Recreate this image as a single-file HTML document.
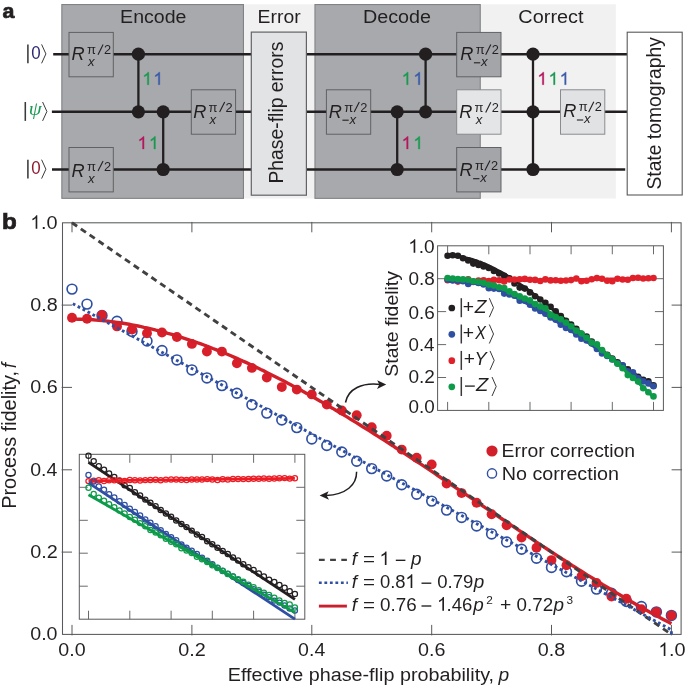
<!DOCTYPE html>
<html><head><meta charset="utf-8"><title>fig</title>
<style>
html,body{margin:0;padding:0;background:#fff;}
svg{display:block;font-family:"Liberation Sans",sans-serif;will-change:transform;opacity:0.999;}
text{fill:#231f20;}
.i{font-style:italic;}
</style></head><body>
<svg width="685" height="687" viewBox="0 0 685 687">
<rect width="685" height="687" fill="#fff"/>

<g id="circuit">
<rect x="244" y="4.3" width="70.5" height="194.2" fill="#f1f1f2"/>
<rect x="480.7" y="4.3" width="135.1" height="194.2" fill="#f1f1f2"/>
<rect x="61.85" y="4.55" width="181.6" height="193.8" fill="#a7a9ac" stroke="#808285" stroke-width="1.1"/>
<rect x="314.95" y="4.55" width="165.3" height="193.8" fill="#a7a9ac" stroke="#808285" stroke-width="1.1"/>
<line x1="53.2" y1="54.2" x2="627" y2="54.2" stroke="#231f20" stroke-width="2.6"/>
<line x1="51.9" y1="111.8" x2="627" y2="111.8" stroke="#231f20" stroke-width="2.6"/>
<line x1="52.0" y1="169.5" x2="625.2" y2="169.5" stroke="#231f20" stroke-width="2.6"/>
<rect x="251.3" y="32.1" width="55.1" height="163.1" fill="#e2e3e5" stroke="#626366" stroke-width="1.2"/>
<rect x="627.2" y="32.2" width="55.0" height="162.8" fill="#fff" stroke="#58595b" stroke-width="1.1"/>
<text x="120.09" y="23.0" font-size="19.2" textLength="66.37" lengthAdjust="spacingAndGlyphs" >Encode</text>
<text x="257.61" y="23.0" font-size="19.2" textLength="43.01" lengthAdjust="spacingAndGlyphs" >Error</text>
<text x="362.98" y="23.0" font-size="19.2" textLength="68.10" lengthAdjust="spacingAndGlyphs" >Decode</text>
<text x="518.39" y="23.0" font-size="19.2" textLength="65.15" lengthAdjust="spacingAndGlyphs" >Correct</text>
<text transform="translate(283.2,112.6) rotate(-90)" font-size="19.35" text-anchor="middle">Phase-flip errors</text>
<text transform="translate(661.2,113.4) rotate(-90)" font-size="19.32" text-anchor="middle">State tomography</text>
<line x1="138.4" y1="54.2" x2="138.4" y2="111.8" stroke="#231f20" stroke-width="2.3"/>
<circle cx="138.4" cy="54.2" r="6.6" fill="#231f20"/>
<circle cx="138.4" cy="111.8" r="6.6" fill="#231f20"/>
<line x1="163.2" y1="111.8" x2="163.2" y2="169.5" stroke="#231f20" stroke-width="2.3"/>
<circle cx="163.2" cy="111.8" r="6.6" fill="#231f20"/>
<circle cx="163.2" cy="169.5" r="6.6" fill="#231f20"/>
<line x1="397.2" y1="111.8" x2="397.2" y2="169.5" stroke="#231f20" stroke-width="2.3"/>
<circle cx="397.2" cy="111.8" r="6.6" fill="#231f20"/>
<circle cx="397.2" cy="169.5" r="6.6" fill="#231f20"/>
<line x1="425.6" y1="54.2" x2="425.6" y2="111.8" stroke="#231f20" stroke-width="2.3"/>
<circle cx="425.6" cy="54.2" r="6.6" fill="#231f20"/>
<circle cx="425.6" cy="111.8" r="6.6" fill="#231f20"/>
<line x1="533" y1="54.2" x2="533" y2="169.5" stroke="#231f20" stroke-width="2.3"/>
<circle cx="533" cy="54.2" r="6.6" fill="#231f20"/>
<circle cx="533" cy="111.8" r="6.6" fill="#231f20"/>
<circle cx="533" cy="169.5" r="6.6" fill="#231f20"/>
<rect x="69.0" y="32.4" width="44.3" height="44.4" fill="#a7a9ac" stroke="#5d5e61" stroke-width="0.95"/>
<text transform="translate(71.6,60.1) scale(1.0,1)" font-size="18.2" class="i">R</text>
<text x="86.9" y="54.1" font-size="13">π</text>
<line x1="98.0" y1="54.7" x2="103.1" y2="44.5" stroke="#231f20" stroke-width="1.1"/>
<text x="104.0" y="54.1" font-size="12.8">2</text>
<text x="88.0" y="66.1" font-size="13.2" class="i">x</text>
<rect x="69.0" y="147.5" width="44.3" height="44.4" fill="#a7a9ac" stroke="#5d5e61" stroke-width="0.95"/>
<text transform="translate(71.6,176.5) scale(1.0,1)" font-size="18.2" class="i">R</text>
<text x="86.9" y="170.5" font-size="13">π</text>
<line x1="98.0" y1="171.1" x2="103.1" y2="160.9" stroke="#231f20" stroke-width="1.1"/>
<text x="104.0" y="170.5" font-size="12.8">2</text>
<text x="88.0" y="182.5" font-size="13.2" class="i">x</text>
<rect x="191.3" y="89.8" width="44.3" height="44.4" fill="#a7a9ac" stroke="#5d5e61" stroke-width="0.95"/>
<text transform="translate(193.2,117.5) scale(1.0,1)" font-size="18.2" class="i">R</text>
<text x="208.5" y="111.5" font-size="13">π</text>
<line x1="219.6" y1="112.1" x2="224.7" y2="101.9" stroke="#231f20" stroke-width="1.1"/>
<text x="225.6" y="111.5" font-size="12.8">2</text>
<text x="209.6" y="123.5" font-size="13.2" class="i">x</text>
<rect x="326.4" y="89.8" width="44.3" height="44.4" fill="#a7a9ac" stroke="#5d5e61" stroke-width="0.95"/>
<text transform="translate(328.7,117.5) scale(1.0,1)" font-size="18.2" class="i">R</text>
<text x="344.2" y="111.5" font-size="13">π</text>
<line x1="354.2" y1="112.1" x2="359.3" y2="101.9" stroke="#231f20" stroke-width="1.1"/>
<text x="360.2" y="111.5" font-size="12.8">2</text>
<line x1="342.4" y1="120.2" x2="348.7" y2="120.2" stroke="#231f20" stroke-width="1.1"/>
<text x="349.5" y="123.5" font-size="13.2" class="i">x</text>
<rect x="456.7" y="32.4" width="44.3" height="44.4" fill="#a3a5a8" stroke="#5d5e61" stroke-width="0.95"/>
<text transform="translate(460.2,60.1) scale(1.0,1)" font-size="18.2" class="i">R</text>
<text x="475.7" y="54.1" font-size="13">π</text>
<line x1="485.7" y1="54.7" x2="490.8" y2="44.5" stroke="#231f20" stroke-width="1.1"/>
<text x="491.7" y="54.1" font-size="12.8">2</text>
<line x1="473.9" y1="62.8" x2="480.2" y2="62.8" stroke="#231f20" stroke-width="1.1"/>
<text x="481.0" y="66.1" font-size="13.2" class="i">x</text>
<rect x="456.7" y="89.8" width="44.3" height="44.4" fill="#e4e5e6" stroke="#85878a" stroke-width="0.95"/>
<text transform="translate(459.3,117.9) scale(1.0,1)" font-size="18.2" class="i">R</text>
<text x="474.6" y="111.9" font-size="13">π</text>
<line x1="485.7" y1="112.5" x2="490.8" y2="102.3" stroke="#231f20" stroke-width="1.1"/>
<text x="491.7" y="111.9" font-size="12.8">2</text>
<text x="475.7" y="123.9" font-size="13.2" class="i">x</text>
<rect x="456.7" y="147.5" width="44.3" height="44.4" fill="#a3a5a8" stroke="#5d5e61" stroke-width="0.95"/>
<text transform="translate(459.4,176.0) scale(1.0,1)" font-size="18.2" class="i">R</text>
<text x="474.9" y="170.0" font-size="13">π</text>
<line x1="484.9" y1="170.6" x2="490.0" y2="160.4" stroke="#231f20" stroke-width="1.1"/>
<text x="490.9" y="170.0" font-size="12.8">2</text>
<line x1="473.1" y1="178.7" x2="479.4" y2="178.7" stroke="#231f20" stroke-width="1.1"/>
<text x="480.2" y="182.0" font-size="13.2" class="i">x</text>
<rect x="560.5" y="89.8" width="44.3" height="44.4" fill="#e1e2e3" stroke="#85878a" stroke-width="0.95"/>
<text transform="translate(563.2,117.3) scale(1.0,1)" font-size="18.2" class="i">R</text>
<text x="578.7" y="111.3" font-size="13">π</text>
<line x1="588.7" y1="111.9" x2="593.8" y2="101.7" stroke="#231f20" stroke-width="1.1"/>
<text x="594.7" y="111.3" font-size="12.8">2</text>
<line x1="576.9" y1="120.0" x2="583.2" y2="120.0" stroke="#231f20" stroke-width="1.1"/>
<text x="584.0" y="123.3" font-size="13.2" class="i">x</text>
<line x1="27.9" y1="44.4" x2="27.9" y2="63.3" stroke="#3a3a3c" stroke-width="1.55"/>
<polyline points="41.6,44.4 45.9,53.9 41.6,63.3" fill="none" stroke="#3a3a3c" stroke-width="1.0"/>
<text x="31.14" y="58.9" font-size="18.4" textLength="9.42" lengthAdjust="spacingAndGlyphs" style="fill:#2d2a72" >0</text>
<line x1="25.3" y1="102.0" x2="25.3" y2="120.9" stroke="#3a3a3c" stroke-width="1.55"/>
<polyline points="42.6,102.0 46.9,111.5 42.6,120.9" fill="none" stroke="#3a3a3c" stroke-width="1.0"/>
<text transform="translate(35.2,114.7) scale(1.06,1)" font-size="19.6" text-anchor="middle" style="fill:#1f9a55;font-family:'Liberation Serif',serif;font-style:italic">ψ</text>
<line x1="27.9" y1="159.7" x2="27.9" y2="178.6" stroke="#3a3a3c" stroke-width="1.55"/>
<polyline points="41.6,159.7 45.9,169.2 41.6,178.6" fill="none" stroke="#3a3a3c" stroke-width="1.0"/>
<text x="31.14" y="174.2" font-size="18.4" textLength="9.42" lengthAdjust="spacingAndGlyphs" style="fill:#8e1b2e" >0</text>
<path d="M763,0 L583,0 L583,1147 Q518,1085 412.5,1023 Q307,961 223,930 L223,1104 Q374,1175 487,1276 Q600,1377 647,1472 L763,1472 Z" transform="translate(142.33,84.7) scale(0.00854,-0.00854)" fill="#1b9a52" stroke="#1b9a52" stroke-width="35"/>
<path d="M763,0 L583,0 L583,1147 Q518,1085 412.5,1023 Q307,961 223,930 L223,1104 Q374,1175 487,1276 Q600,1377 647,1472 L763,1472 Z" transform="translate(153.33,84.7) scale(0.00854,-0.00854)" fill="#3b5ba9" stroke="#3b5ba9" stroke-width="35"/>
<path d="M763,0 L583,0 L583,1147 Q518,1085 412.5,1023 Q307,961 223,930 L223,1104 Q374,1175 487,1276 Q600,1377 647,1472 L763,1472 Z" transform="translate(137.53,149.0) scale(0.00854,-0.00854)" fill="#b4185f" stroke="#b4185f" stroke-width="35"/>
<path d="M763,0 L583,0 L583,1147 Q518,1085 412.5,1023 Q307,961 223,930 L223,1104 Q374,1175 487,1276 Q600,1377 647,1472 L763,1472 Z" transform="translate(148.93,149.0) scale(0.00854,-0.00854)" fill="#1b9a52" stroke="#1b9a52" stroke-width="35"/>
<path d="M763,0 L583,0 L583,1147 Q518,1085 412.5,1023 Q307,961 223,930 L223,1104 Q374,1175 487,1276 Q600,1377 647,1472 L763,1472 Z" transform="translate(401.63,84.7) scale(0.00854,-0.00854)" fill="#1b9a52" stroke="#1b9a52" stroke-width="35"/>
<path d="M763,0 L583,0 L583,1147 Q518,1085 412.5,1023 Q307,961 223,930 L223,1104 Q374,1175 487,1276 Q600,1377 647,1472 L763,1472 Z" transform="translate(413.33,84.7) scale(0.00854,-0.00854)" fill="#3b5ba9" stroke="#3b5ba9" stroke-width="35"/>
<path d="M763,0 L583,0 L583,1147 Q518,1085 412.5,1023 Q307,961 223,930 L223,1104 Q374,1175 487,1276 Q600,1377 647,1472 L763,1472 Z" transform="translate(401.63,149.0) scale(0.00854,-0.00854)" fill="#b4185f" stroke="#b4185f" stroke-width="35"/>
<path d="M763,0 L583,0 L583,1147 Q518,1085 412.5,1023 Q307,961 223,930 L223,1104 Q374,1175 487,1276 Q600,1377 647,1472 L763,1472 Z" transform="translate(413.33,149.0) scale(0.00854,-0.00854)" fill="#1b9a52" stroke="#1b9a52" stroke-width="35"/>
<path d="M763,0 L583,0 L583,1147 Q518,1085 412.5,1023 Q307,961 223,930 L223,1104 Q374,1175 487,1276 Q600,1377 647,1472 L763,1472 Z" transform="translate(537.33,84.7) scale(0.00854,-0.00854)" fill="#b4185f" stroke="#b4185f" stroke-width="35"/>
<path d="M763,0 L583,0 L583,1147 Q518,1085 412.5,1023 Q307,961 223,930 L223,1104 Q374,1175 487,1276 Q600,1377 647,1472 L763,1472 Z" transform="translate(548.53,84.7) scale(0.00854,-0.00854)" fill="#1b9a52" stroke="#1b9a52" stroke-width="35"/>
<path d="M763,0 L583,0 L583,1147 Q518,1085 412.5,1023 Q307,961 223,930 L223,1104 Q374,1175 487,1276 Q600,1377 647,1472 L763,1472 Z" transform="translate(559.63,84.7) scale(0.00854,-0.00854)" fill="#3b5ba9" stroke="#3b5ba9" stroke-width="35"/>
<text x="2.52" y="17.75" font-size="20.8" textLength="11.89" lengthAdjust="spacingAndGlyphs" font-weight="bold" stroke="#231f20" stroke-width="0.7">a</text>
</g>
<g id="chart">
<text x="1.95" y="228.6" font-size="21.6" textLength="14.79" lengthAdjust="spacingAndGlyphs" font-weight="bold" stroke="#231f20" stroke-width="0.7">b</text>
<rect x="62.5" y="222.8" width="618.6" height="411.6" fill="none" stroke="#58595b" stroke-width="1.05"/>
<line x1="72.0" y1="635.4" x2="72.0" y2="624.9" stroke="#58595b" stroke-width="1"/>
<line x1="72.0" y1="221.9" x2="72.0" y2="232.3" stroke="#58595b" stroke-width="1"/>
<text x="58.38" y="656.0" font-size="18.7" textLength="27.34" lengthAdjust="spacingAndGlyphs" >0.0</text>
<line x1="191.9" y1="635.4" x2="191.9" y2="624.9" stroke="#58595b" stroke-width="1"/>
<line x1="191.9" y1="221.9" x2="191.9" y2="232.3" stroke="#58595b" stroke-width="1"/>
<text x="178.25" y="656.0" font-size="18.7" textLength="27.57" lengthAdjust="spacingAndGlyphs" >0.2</text>
<line x1="311.8" y1="635.4" x2="311.8" y2="624.9" stroke="#58595b" stroke-width="1"/>
<line x1="311.8" y1="221.9" x2="311.8" y2="232.3" stroke="#58595b" stroke-width="1"/>
<text x="298.13" y="656.0" font-size="18.7" textLength="27.13" lengthAdjust="spacingAndGlyphs" >0.4</text>
<line x1="431.7" y1="635.4" x2="431.7" y2="624.9" stroke="#58595b" stroke-width="1"/>
<line x1="431.7" y1="221.9" x2="431.7" y2="232.3" stroke="#58595b" stroke-width="1"/>
<text x="417.99" y="656.0" font-size="18.7" textLength="27.44" lengthAdjust="spacingAndGlyphs" >0.6</text>
<line x1="551.5" y1="635.4" x2="551.5" y2="624.9" stroke="#58595b" stroke-width="1"/>
<line x1="551.5" y1="221.9" x2="551.5" y2="232.3" stroke="#58595b" stroke-width="1"/>
<text x="537.86" y="656.0" font-size="18.7" textLength="27.43" lengthAdjust="spacingAndGlyphs" >0.8</text>
<line x1="671.4" y1="635.4" x2="671.4" y2="624.9" stroke="#58595b" stroke-width="1"/>
<line x1="671.4" y1="221.9" x2="671.4" y2="232.3" stroke="#58595b" stroke-width="1"/>
<path d="M763,0 L583,0 L583,1147 Q518,1085 412.5,1023 Q307,961 223,930 L223,1104 Q374,1175 487,1276 Q600,1377 647,1472 L763,1472 Z" transform="translate(658.43,656.0) scale(0.00913,-0.00913)" fill="#231f20"/>
<text x="669.08" y="656.0" font-size="18.7" textLength="16.59" lengthAdjust="spacingAndGlyphs" >.0</text>
<text x="30.23" y="640.4" font-size="18.7" textLength="27.34" lengthAdjust="spacingAndGlyphs" >0.0</text>
<line x1="61.6" y1="552.1" x2="72.0" y2="552.1" stroke="#58595b" stroke-width="1"/>
<line x1="682.0" y1="552.1" x2="671.6" y2="552.1" stroke="#58595b" stroke-width="1"/>
<text x="30.23" y="558.1" font-size="18.7" textLength="27.57" lengthAdjust="spacingAndGlyphs" >0.2</text>
<line x1="61.6" y1="469.8" x2="72.0" y2="469.8" stroke="#58595b" stroke-width="1"/>
<line x1="682.0" y1="469.8" x2="671.6" y2="469.8" stroke="#58595b" stroke-width="1"/>
<text x="30.24" y="475.8" font-size="18.7" textLength="27.13" lengthAdjust="spacingAndGlyphs" >0.4</text>
<line x1="61.6" y1="387.4" x2="72.0" y2="387.4" stroke="#58595b" stroke-width="1"/>
<line x1="682.0" y1="387.4" x2="671.6" y2="387.4" stroke="#58595b" stroke-width="1"/>
<text x="30.23" y="393.4" font-size="18.7" textLength="27.44" lengthAdjust="spacingAndGlyphs" >0.6</text>
<line x1="61.6" y1="305.1" x2="72.0" y2="305.1" stroke="#58595b" stroke-width="1"/>
<line x1="682.0" y1="305.1" x2="671.6" y2="305.1" stroke="#58595b" stroke-width="1"/>
<text x="30.23" y="311.1" font-size="18.7" textLength="27.43" lengthAdjust="spacingAndGlyphs" >0.8</text>
<path d="M763,0 L583,0 L583,1147 Q518,1085 412.5,1023 Q307,961 223,930 L223,1104 Q374,1175 487,1276 Q600,1377 647,1472 L763,1472 Z" transform="translate(30.33,228.8) scale(0.00913,-0.00913)" fill="#231f20"/>
<text x="40.98" y="228.8" font-size="18.7" textLength="16.59" lengthAdjust="spacingAndGlyphs" >.0</text>
<g transform="translate(16.1,507.2) rotate(-90)">
<text x="-1.62" y="0" font-size="19.3" textLength="137.88" lengthAdjust="spacingAndGlyphs" >Process fidelity,</text>
<text x="138.95" y="0" font-size="19.3" class="i">f</text>
</g>
<text x="227.69" y="681.0" font-size="19.2" textLength="266.38" lengthAdjust="spacingAndGlyphs" >Effective phase-flip probability,</text>
<text x="498.48" y="681.0" font-size="19.2" class="i">p</text>
<circle cx="72.0" cy="289.1" r="4.9" fill="none" stroke="#2f4fa2" stroke-width="1.65"/>
<circle cx="87.0" cy="304.1" r="4.9" fill="none" stroke="#2f4fa2" stroke-width="1.65"/>
<circle cx="102.0" cy="315.5" r="4.9" fill="none" stroke="#2f4fa2" stroke-width="1.65"/>
<circle cx="117.0" cy="321.3" r="4.9" fill="none" stroke="#2f4fa2" stroke-width="1.65"/>
<circle cx="132.0" cy="331.4" r="4.9" fill="none" stroke="#2f4fa2" stroke-width="1.65"/>
<circle cx="147.0" cy="341.0" r="4.9" fill="none" stroke="#2f4fa2" stroke-width="1.65"/>
<circle cx="162.0" cy="350.5" r="4.9" fill="none" stroke="#2f4fa2" stroke-width="1.65"/>
<circle cx="176.9" cy="359.9" r="4.9" fill="none" stroke="#2f4fa2" stroke-width="1.65"/>
<circle cx="191.9" cy="369.9" r="4.9" fill="none" stroke="#2f4fa2" stroke-width="1.65"/>
<circle cx="206.9" cy="377.9" r="4.9" fill="none" stroke="#2f4fa2" stroke-width="1.65"/>
<circle cx="221.9" cy="385.6" r="4.9" fill="none" stroke="#2f4fa2" stroke-width="1.65"/>
<circle cx="236.9" cy="393.2" r="4.9" fill="none" stroke="#2f4fa2" stroke-width="1.65"/>
<circle cx="251.9" cy="404.8" r="4.9" fill="none" stroke="#2f4fa2" stroke-width="1.65"/>
<circle cx="266.8" cy="413.1" r="4.9" fill="none" stroke="#2f4fa2" stroke-width="1.65"/>
<circle cx="281.8" cy="420.0" r="4.9" fill="none" stroke="#2f4fa2" stroke-width="1.65"/>
<circle cx="296.8" cy="427.6" r="4.9" fill="none" stroke="#2f4fa2" stroke-width="1.65"/>
<circle cx="311.8" cy="438.9" r="4.9" fill="none" stroke="#2f4fa2" stroke-width="1.65"/>
<circle cx="326.8" cy="445.5" r="4.9" fill="none" stroke="#2f4fa2" stroke-width="1.65"/>
<circle cx="341.8" cy="452.0" r="4.9" fill="none" stroke="#2f4fa2" stroke-width="1.65"/>
<circle cx="356.7" cy="461.3" r="4.9" fill="none" stroke="#2f4fa2" stroke-width="1.65"/>
<circle cx="371.7" cy="468.6" r="4.9" fill="none" stroke="#2f4fa2" stroke-width="1.65"/>
<circle cx="386.7" cy="475.9" r="4.9" fill="none" stroke="#2f4fa2" stroke-width="1.65"/>
<circle cx="401.7" cy="484.7" r="4.9" fill="none" stroke="#2f4fa2" stroke-width="1.65"/>
<circle cx="416.7" cy="494.2" r="4.9" fill="none" stroke="#2f4fa2" stroke-width="1.65"/>
<circle cx="431.7" cy="501.1" r="4.9" fill="none" stroke="#2f4fa2" stroke-width="1.65"/>
<circle cx="446.6" cy="510.1" r="4.9" fill="none" stroke="#2f4fa2" stroke-width="1.65"/>
<circle cx="461.6" cy="517.4" r="4.9" fill="none" stroke="#2f4fa2" stroke-width="1.65"/>
<circle cx="476.6" cy="525.9" r="4.9" fill="none" stroke="#2f4fa2" stroke-width="1.65"/>
<circle cx="491.6" cy="533.9" r="4.9" fill="none" stroke="#2f4fa2" stroke-width="1.65"/>
<circle cx="506.6" cy="542.0" r="4.9" fill="none" stroke="#2f4fa2" stroke-width="1.65"/>
<circle cx="521.6" cy="549.3" r="4.9" fill="none" stroke="#2f4fa2" stroke-width="1.65"/>
<circle cx="536.5" cy="558.2" r="4.9" fill="none" stroke="#2f4fa2" stroke-width="1.65"/>
<circle cx="551.5" cy="567.4" r="4.9" fill="none" stroke="#2f4fa2" stroke-width="1.65"/>
<circle cx="566.5" cy="571.8" r="4.9" fill="none" stroke="#2f4fa2" stroke-width="1.65"/>
<circle cx="581.5" cy="581.3" r="4.9" fill="none" stroke="#2f4fa2" stroke-width="1.65"/>
<circle cx="596.5" cy="589.1" r="4.9" fill="none" stroke="#2f4fa2" stroke-width="1.65"/>
<circle cx="611.5" cy="593.2" r="4.9" fill="none" stroke="#2f4fa2" stroke-width="1.65"/>
<circle cx="626.4" cy="601.4" r="4.9" fill="none" stroke="#2f4fa2" stroke-width="1.65"/>
<circle cx="641.4" cy="606.6" r="4.9" fill="none" stroke="#2f4fa2" stroke-width="1.65"/>
<circle cx="656.4" cy="611.9" r="4.9" fill="none" stroke="#2f4fa2" stroke-width="1.65"/>
<circle cx="671.4" cy="615.4" r="4.9" fill="none" stroke="#2f4fa2" stroke-width="1.65"/>
<circle cx="72.0" cy="317.7" r="4.95" fill="#d81f2a"/>
<circle cx="87.0" cy="318.7" r="4.95" fill="#d81f2a"/>
<circle cx="102.0" cy="315.0" r="4.95" fill="#d81f2a"/>
<circle cx="117.0" cy="326.4" r="4.95" fill="#d81f2a"/>
<circle cx="132.0" cy="329.6" r="4.95" fill="#d81f2a"/>
<circle cx="147.0" cy="333.3" r="4.95" fill="#d81f2a"/>
<circle cx="162.0" cy="332.5" r="4.95" fill="#d81f2a"/>
<circle cx="176.9" cy="337.0" r="4.95" fill="#d81f2a"/>
<circle cx="191.9" cy="343.9" r="4.95" fill="#d81f2a"/>
<circle cx="206.9" cy="351.6" r="4.95" fill="#d81f2a"/>
<circle cx="221.9" cy="351.6" r="4.95" fill="#d81f2a"/>
<circle cx="236.9" cy="363.3" r="4.95" fill="#d81f2a"/>
<circle cx="251.9" cy="367.9" r="4.95" fill="#d81f2a"/>
<circle cx="266.8" cy="377.6" r="4.95" fill="#d81f2a"/>
<circle cx="281.8" cy="387.1" r="4.95" fill="#d81f2a"/>
<circle cx="296.8" cy="389.6" r="4.95" fill="#d81f2a"/>
<circle cx="311.8" cy="394.4" r="4.95" fill="#d81f2a"/>
<circle cx="326.8" cy="404.6" r="4.95" fill="#d81f2a"/>
<circle cx="341.8" cy="410.5" r="4.95" fill="#d81f2a"/>
<circle cx="356.7" cy="415.3" r="4.95" fill="#d81f2a"/>
<circle cx="371.7" cy="427.3" r="4.95" fill="#d81f2a"/>
<circle cx="386.7" cy="435.8" r="4.95" fill="#d81f2a"/>
<circle cx="401.7" cy="449.6" r="4.95" fill="#d81f2a"/>
<circle cx="416.7" cy="457.7" r="4.95" fill="#d81f2a"/>
<circle cx="431.7" cy="464.4" r="4.95" fill="#d81f2a"/>
<circle cx="446.6" cy="483.6" r="4.95" fill="#d81f2a"/>
<circle cx="461.6" cy="493.1" r="4.95" fill="#d81f2a"/>
<circle cx="476.6" cy="502.8" r="4.95" fill="#d81f2a"/>
<circle cx="491.6" cy="514.2" r="4.95" fill="#d81f2a"/>
<circle cx="506.6" cy="525.2" r="4.95" fill="#d81f2a"/>
<circle cx="521.6" cy="537.6" r="4.95" fill="#d81f2a"/>
<circle cx="536.5" cy="547.7" r="4.95" fill="#d81f2a"/>
<circle cx="551.5" cy="560.1" r="4.95" fill="#d81f2a"/>
<circle cx="566.5" cy="565.3" r="4.95" fill="#d81f2a"/>
<circle cx="581.5" cy="576.2" r="4.95" fill="#d81f2a"/>
<circle cx="596.5" cy="582.9" r="4.95" fill="#d81f2a"/>
<circle cx="611.5" cy="596.6" r="4.95" fill="#d81f2a"/>
<circle cx="626.4" cy="598.8" r="4.95" fill="#d81f2a"/>
<circle cx="641.4" cy="609.3" r="4.95" fill="#d81f2a"/>
<circle cx="656.4" cy="611.9" r="4.95" fill="#d81f2a"/>
<circle cx="671.4" cy="615.4" r="4.95" fill="#d81f2a"/>
<polyline points="72.0,319.1 75.0,319.1 78.0,319.2 81.0,319.2 84.0,319.4 87.0,319.5 90.0,319.6 93.0,319.8 96.0,320.1 99.0,320.3 102.0,320.6 105.0,320.9 108.0,321.2 111.0,321.6 114.0,322.0 117.0,322.4 120.0,322.8 123.0,323.3 126.0,323.8 129.0,324.3 132.0,324.8 135.0,325.4 138.0,326.0 141.0,326.6 144.0,327.3 147.0,327.9 150.0,328.6 153.0,329.3 156.0,330.1 159.0,330.8 162.0,331.6 164.9,332.4 167.9,333.3 170.9,334.1 173.9,335.0 176.9,335.9 179.9,336.9 182.9,337.8 185.9,338.8 188.9,339.8 191.9,340.8 194.9,341.8 197.9,342.9 200.9,343.9 203.9,345.0 206.9,346.2 209.9,347.3 212.9,348.5 215.9,349.6 218.9,350.8 221.9,352.0 224.9,353.3 227.9,354.5 230.9,355.8 233.9,357.1 236.9,358.4 239.9,359.7 242.9,361.1 245.9,362.4 248.9,363.8 251.9,365.2 254.9,366.6 257.8,368.0 260.8,369.5 263.8,370.9 266.8,372.4 269.8,373.9 272.8,375.4 275.8,376.9 278.8,378.5 281.8,380.0 284.8,381.6 287.8,383.2 290.8,384.8 293.8,386.4 296.8,388.0 299.8,389.6 302.8,391.3 305.8,392.9 308.8,394.6 311.8,396.3 314.8,398.0 317.8,399.7 320.8,401.4 323.8,403.2 326.8,404.9 329.8,406.7 332.8,408.4 335.8,410.2 338.8,412.0 341.8,413.8 344.8,415.6 347.8,417.4 350.7,419.3 353.7,421.1 356.7,422.9 359.7,424.8 362.7,426.7 365.7,428.5 368.7,430.4 371.7,432.3 374.7,434.2 377.7,436.1 380.7,438.0 383.7,439.9 386.7,441.9 389.7,443.8 392.7,445.7 395.7,447.7 398.7,449.6 401.7,451.6 404.7,453.6 407.7,455.5 410.7,457.5 413.7,459.5 416.7,461.5 419.7,463.4 422.7,465.4 425.7,467.4 428.7,469.4 431.7,471.4 434.7,473.4 437.7,475.5 440.7,477.5 443.6,479.5 446.6,481.5 449.6,483.5 452.6,485.5 455.6,487.6 458.6,489.6 461.6,491.6 464.6,493.7 467.6,495.7 470.6,497.7 473.6,499.7 476.6,501.8 479.6,503.8 482.6,505.8 485.6,507.9 488.6,509.9 491.6,511.9 494.6,514.0 497.6,516.0 500.6,518.0 503.6,520.0 506.6,522.0 509.6,524.1 512.6,526.1 515.6,528.1 518.6,530.1 521.6,532.1 524.6,534.1 527.6,536.1 530.6,538.1 533.5,540.1 536.5,542.1 539.5,544.1 542.5,546.1 545.5,548.0 548.5,550.0 551.5,552.0 554.5,553.9 557.5,555.9 560.5,557.8 563.5,559.8 566.5,561.7 569.5,563.6 572.5,565.6 575.5,567.5 578.5,569.4 581.5,571.3 584.5,573.2 587.5,575.1 590.5,576.9 593.5,578.8 596.5,580.7 599.5,582.5 602.5,584.4 605.5,586.2 608.5,588.0 611.5,589.8 614.5,591.6 617.5,593.4 620.5,595.2 623.5,597.0 626.4,598.7 629.4,600.5 632.4,602.2 635.4,604.0 638.4,605.7 641.4,607.4 644.4,609.1 647.4,610.7 650.4,612.4 653.4,614.1 656.4,615.7 659.4,617.3 662.4,618.9 665.4,620.5 668.4,622.1 671.4,623.7" fill="none" stroke="#d2202a" stroke-width="3.4"/>
<line x1="72.0" y1="222.8" x2="671.4" y2="634.4" stroke="#414042" stroke-width="2.9" stroke-dasharray="6.2 4.5"/>
<polyline points="72.8,303.7 671.4,629.8 671.4,634.4" fill="none" stroke="#2f4fa2" stroke-width="2.9" stroke-dasharray="2.8 2.8"/>
<circle cx="492" cy="451" r="5.6" fill="#d2202a"/>
<circle cx="492" cy="473.4" r="4.6" fill="none" stroke="#2f4fa2" stroke-width="1.4"/>
<text x="501.61" y="456.8" font-size="19.1" textLength="133.45" lengthAdjust="spacingAndGlyphs" >Error correction</text>
<text x="501.68" y="480.1" font-size="19.1" textLength="117.40" lengthAdjust="spacingAndGlyphs" >No correction</text>
<line x1="318.9" y1="559.9" x2="346.9" y2="559.9" stroke="#414042" stroke-width="2.4" stroke-dasharray="5.8 5.4"/>
<line x1="318.9" y1="582.8" x2="347.9" y2="582.8" stroke="#2f4fa2" stroke-width="2.6" stroke-dasharray="2.8 2.7"/>
<line x1="318.9" y1="606.1" x2="346.9" y2="606.1" stroke="#c8202c" stroke-width="2.9"/>
<text x="351.86" y="565.0" font-size="18.9" class="i">f</text>
<text x="362.99" y="565.0" font-size="18.9" textLength="12.02" lengthAdjust="spacingAndGlyphs" >=</text>
<text x="351.86" y="587.9" font-size="18.9" class="i">f</text>
<text x="362.99" y="587.9" font-size="18.9" textLength="12.02" lengthAdjust="spacingAndGlyphs" >=</text>
<text x="351.86" y="610.7" font-size="18.9" class="i">f</text>
<text x="362.99" y="610.7" font-size="18.9" textLength="12.02" lengthAdjust="spacingAndGlyphs" >=</text>
<path d="M763,0 L583,0 L583,1147 Q518,1085 412.5,1023 Q307,961 223,930 L223,1104 Q374,1175 487,1276 Q600,1377 647,1472 L763,1472 Z" transform="translate(379.46,565.0) scale(0.00923,-0.00923)" fill="#231f20"/>
<line x1="395.8" y1="560.3" x2="405.4" y2="560.3" stroke="#231f20" stroke-width="1.35"/>
<text x="411.07" y="565.0" font-size="18.9" class="i">p</text>
<text x="379.98" y="587.9" font-size="18.9" textLength="25.62" lengthAdjust="spacingAndGlyphs" >0.8</text>
<path d="M763,0 L583,0 L583,1147 Q518,1085 412.5,1023 Q307,961 223,930 L223,1104 Q374,1175 487,1276 Q600,1377 647,1472 L763,1472 Z" transform="translate(405.26,587.9) scale(0.00923,-0.00923)" fill="#231f20"/>
<line x1="421.5" y1="583.2" x2="431.3" y2="583.2" stroke="#231f20" stroke-width="1.35"/>
<text x="437.18" y="587.9" font-size="18.9" textLength="36.10" lengthAdjust="spacingAndGlyphs" >0.79</text>
<text x="473.87" y="587.9" font-size="18.9" class="i">p</text>
<text x="379.96" y="610.7" font-size="18.9" textLength="36.66" lengthAdjust="spacingAndGlyphs" >0.76</text>
<line x1="421.5" y1="606.0" x2="431.3" y2="606.0" stroke="#231f20" stroke-width="1.35"/>
<path d="M763,0 L583,0 L583,1147 Q518,1085 412.5,1023 Q307,961 223,930 L223,1104 Q374,1175 487,1276 Q600,1377 647,1472 L763,1472 Z" transform="translate(436.96,610.7) scale(0.00923,-0.00923)" fill="#231f20"/>
<text x="446.60" y="610.7" font-size="18.9" textLength="25.81" lengthAdjust="spacingAndGlyphs" >.46</text>
<text x="473.27" y="610.7" font-size="18.9" class="i">p</text>
<text x="486.31" y="604.3000000000001" font-size="11.8">2</text>
<text x="499.96" y="610.7" font-size="18.9" textLength="11.30" lengthAdjust="spacingAndGlyphs" >+</text>
<text x="516.57" y="610.7" font-size="18.9" textLength="36.58" lengthAdjust="spacingAndGlyphs" >0.72</text>
<text x="553.47" y="610.7" font-size="18.9" class="i">p</text>
<text x="566.55" y="604.3000000000001" font-size="11.8">3</text>
<path d="M345.5,402.5 C348,389 362,382 381,384.5" fill="none" stroke="#231f20" stroke-width="1.6"/>
<path d="M386.2,384.4 L377.2,380.2 L379.3,384.6 L377,389 Z" fill="#231f20"/>
<path d="M356.6,471.8 C356.8,485 346,494.6 326,495.5" fill="none" stroke="#231f20" stroke-width="1.5"/>
<path d="M319.6,495.6 L328.6,491.2 L326.6,495.5 L329,499.8 Z" fill="#231f20"/>
<rect x="437.6" y="245.8" width="225.79999999999995" height="164.59999999999997" fill="#fff" stroke="#58595b" stroke-width="1"/>
<line x1="447.6" y1="410.4" x2="447.6" y2="401.9" stroke="#58595b" stroke-width="0.9"/>
<line x1="447.6" y1="245.8" x2="447.6" y2="254.3" stroke="#58595b" stroke-width="0.9"/>
<line x1="488.8" y1="410.4" x2="488.8" y2="401.9" stroke="#58595b" stroke-width="0.9"/>
<line x1="488.8" y1="245.8" x2="488.8" y2="254.3" stroke="#58595b" stroke-width="0.9"/>
<line x1="530.0" y1="410.4" x2="530.0" y2="401.9" stroke="#58595b" stroke-width="0.9"/>
<line x1="530.0" y1="245.8" x2="530.0" y2="254.3" stroke="#58595b" stroke-width="0.9"/>
<line x1="571.1" y1="410.4" x2="571.1" y2="401.9" stroke="#58595b" stroke-width="0.9"/>
<line x1="571.1" y1="245.8" x2="571.1" y2="254.3" stroke="#58595b" stroke-width="0.9"/>
<line x1="612.3" y1="410.4" x2="612.3" y2="401.9" stroke="#58595b" stroke-width="0.9"/>
<line x1="612.3" y1="245.8" x2="612.3" y2="254.3" stroke="#58595b" stroke-width="0.9"/>
<line x1="653.5" y1="410.4" x2="653.5" y2="401.9" stroke="#58595b" stroke-width="0.9"/>
<line x1="653.5" y1="245.8" x2="653.5" y2="254.3" stroke="#58595b" stroke-width="0.9"/>
<line x1="437.6" y1="377.5" x2="446.1" y2="377.5" stroke="#58595b" stroke-width="0.9"/>
<line x1="663.4" y1="377.5" x2="654.9" y2="377.5" stroke="#58595b" stroke-width="0.9"/>
<line x1="437.6" y1="344.6" x2="446.1" y2="344.6" stroke="#58595b" stroke-width="0.9"/>
<line x1="663.4" y1="344.6" x2="654.9" y2="344.6" stroke="#58595b" stroke-width="0.9"/>
<line x1="437.6" y1="311.6" x2="446.1" y2="311.6" stroke="#58595b" stroke-width="0.9"/>
<line x1="663.4" y1="311.6" x2="654.9" y2="311.6" stroke="#58595b" stroke-width="0.9"/>
<line x1="437.6" y1="278.7" x2="446.1" y2="278.7" stroke="#58595b" stroke-width="0.9"/>
<line x1="663.4" y1="278.7" x2="654.9" y2="278.7" stroke="#58595b" stroke-width="0.9"/>
<path d="M763,0 L583,0 L583,1147 Q518,1085 412.5,1023 Q307,961 223,930 L223,1104 Q374,1175 487,1276 Q600,1377 647,1472 L763,1472 Z" transform="translate(408.31,252.7) scale(0.00913,-0.00913)" fill="#231f20"/>
<text x="418.82" y="252.7" font-size="18.7" textLength="15.93" lengthAdjust="spacingAndGlyphs" >.0</text>
<text x="408.49" y="285.1" font-size="18.7" textLength="26.33" lengthAdjust="spacingAndGlyphs" >0.8</text>
<text x="408.49" y="318.6" font-size="18.7" textLength="26.34" lengthAdjust="spacingAndGlyphs" >0.6</text>
<text x="408.50" y="350.7" font-size="18.7" textLength="26.05" lengthAdjust="spacingAndGlyphs" >0.4</text>
<text x="408.49" y="383.1" font-size="18.7" textLength="26.47" lengthAdjust="spacingAndGlyphs" >0.2</text>
<text x="408.49" y="413.2" font-size="18.7" textLength="26.24" lengthAdjust="spacingAndGlyphs" >0.0</text>
<g transform="translate(398.3,375.8) rotate(-90)">
<text x="-0.88" y="0" font-size="19.0" textLength="105.52" lengthAdjust="spacingAndGlyphs" >State fidelity</text>
</g>
<circle cx="447.6" cy="255.8" r="3.3" fill="#231f20"/>
<circle cx="452.7" cy="255.3" r="3.3" fill="#231f20"/>
<circle cx="457.9" cy="255.8" r="3.3" fill="#231f20"/>
<circle cx="463.0" cy="258.3" r="3.3" fill="#231f20"/>
<circle cx="468.2" cy="260.4" r="3.3" fill="#231f20"/>
<circle cx="473.3" cy="263.6" r="3.3" fill="#231f20"/>
<circle cx="478.5" cy="264.9" r="3.3" fill="#231f20"/>
<circle cx="483.6" cy="266.4" r="3.3" fill="#231f20"/>
<circle cx="488.8" cy="268.0" r="3.3" fill="#231f20"/>
<circle cx="493.9" cy="271.0" r="3.3" fill="#231f20"/>
<circle cx="499.1" cy="273.5" r="3.3" fill="#231f20"/>
<circle cx="504.2" cy="275.9" r="3.3" fill="#231f20"/>
<circle cx="509.4" cy="278.2" r="3.3" fill="#231f20"/>
<circle cx="514.5" cy="283.5" r="3.3" fill="#231f20"/>
<circle cx="519.7" cy="287.6" r="3.3" fill="#231f20"/>
<circle cx="524.8" cy="288.6" r="3.3" fill="#231f20"/>
<circle cx="530.0" cy="292.4" r="3.3" fill="#231f20"/>
<circle cx="535.1" cy="296.2" r="3.3" fill="#231f20"/>
<circle cx="540.3" cy="299.5" r="3.3" fill="#231f20"/>
<circle cx="545.4" cy="302.9" r="3.3" fill="#231f20"/>
<circle cx="550.6" cy="306.7" r="3.3" fill="#231f20"/>
<circle cx="555.7" cy="311.3" r="3.3" fill="#231f20"/>
<circle cx="560.8" cy="316.1" r="3.3" fill="#231f20"/>
<circle cx="566.0" cy="320.8" r="3.3" fill="#231f20"/>
<circle cx="571.1" cy="324.5" r="3.3" fill="#231f20"/>
<circle cx="576.3" cy="328.8" r="3.3" fill="#231f20"/>
<circle cx="581.4" cy="333.8" r="3.3" fill="#231f20"/>
<circle cx="586.6" cy="336.5" r="3.3" fill="#231f20"/>
<circle cx="591.7" cy="341.6" r="3.3" fill="#231f20"/>
<circle cx="596.9" cy="345.4" r="3.3" fill="#231f20"/>
<circle cx="602.0" cy="350.7" r="3.3" fill="#231f20"/>
<circle cx="607.2" cy="354.9" r="3.3" fill="#231f20"/>
<circle cx="612.3" cy="358.6" r="3.3" fill="#231f20"/>
<circle cx="617.5" cy="362.3" r="3.3" fill="#231f20"/>
<circle cx="622.6" cy="365.5" r="3.3" fill="#231f20"/>
<circle cx="627.8" cy="369.4" r="3.3" fill="#231f20"/>
<circle cx="632.9" cy="373.3" r="3.3" fill="#231f20"/>
<circle cx="638.1" cy="376.9" r="3.3" fill="#231f20"/>
<circle cx="643.2" cy="379.7" r="3.3" fill="#231f20"/>
<circle cx="648.4" cy="381.4" r="3.3" fill="#231f20"/>
<circle cx="653.5" cy="385.4" r="3.3" fill="#231f20"/>
<polyline points="447.6,255.7 449.7,255.7 451.7,255.8 453.8,255.9 455.8,256.1 457.9,256.4 460.0,256.7 462.0,257.0 464.1,257.4 466.1,257.9 468.2,258.4 470.2,258.9 472.3,259.5 474.4,260.2 476.4,260.8 478.5,261.6 480.5,262.3 482.6,263.2 484.7,264.0 486.7,264.9 488.8,265.8 490.8,266.8 492.9,267.8 495.0,268.9 497.0,270.0 499.1,271.1 501.1,272.2 503.2,273.4 505.3,274.6 507.3,275.9 509.4,277.1 511.4,278.5 513.5,279.8 515.5,281.1 517.6,282.5 519.7,283.9 521.7,285.4 523.8,286.8 525.8,288.3 527.9,289.8 530.0,291.3 532.0,292.9 534.1,294.5 536.1,296.0 538.2,297.6 540.3,299.2 542.3,300.9 544.4,302.5 546.4,304.2 548.5,305.8 550.6,307.5 552.6,309.2 554.7,310.9 556.7,312.6 558.8,314.3 560.8,316.0 562.9,317.8 565.0,319.5 567.0,321.2 569.1,322.9 571.1,324.7 573.2,326.4 575.3,328.2 577.3,329.9 579.4,331.6 581.4,333.4 583.5,335.1 585.6,336.8 587.6,338.5 589.7,340.2 591.7,342.0 593.8,343.6 595.8,345.3 597.9,347.0 600.0,348.7 602.0,350.3 604.1,352.0 606.1,353.6 608.2,355.2 610.3,356.8 612.3,358.4 614.4,359.9 616.4,361.5 618.5,363.0 620.6,364.5 622.6,366.0 624.7,367.4 626.7,368.8 628.8,370.3 630.9,371.6 632.9,373.0 635.0,374.3 637.0,375.6 639.1,376.9 641.1,378.1 643.2,379.3 645.3,380.5 647.3,381.7 649.4,382.8 651.4,383.8 653.5,384.9" fill="none" stroke="#231f20" stroke-width="3.1"/>
<circle cx="447.6" cy="280.2" r="3.3" fill="#e0202a"/>
<circle cx="452.7" cy="280.0" r="3.3" fill="#e0202a"/>
<circle cx="457.9" cy="281.6" r="3.3" fill="#e0202a"/>
<circle cx="463.0" cy="280.3" r="3.3" fill="#e0202a"/>
<circle cx="468.2" cy="279.3" r="3.3" fill="#e0202a"/>
<circle cx="473.3" cy="282.0" r="3.3" fill="#e0202a"/>
<circle cx="478.5" cy="280.6" r="3.3" fill="#e0202a"/>
<circle cx="483.6" cy="280.4" r="3.3" fill="#e0202a"/>
<circle cx="488.8" cy="281.0" r="3.3" fill="#e0202a"/>
<circle cx="493.9" cy="279.9" r="3.3" fill="#e0202a"/>
<circle cx="499.1" cy="280.3" r="3.3" fill="#e0202a"/>
<circle cx="504.2" cy="281.4" r="3.3" fill="#e0202a"/>
<circle cx="509.4" cy="279.5" r="3.3" fill="#e0202a"/>
<circle cx="514.5" cy="279.6" r="3.3" fill="#e0202a"/>
<circle cx="519.7" cy="279.3" r="3.3" fill="#e0202a"/>
<circle cx="524.8" cy="278.9" r="3.3" fill="#e0202a"/>
<circle cx="530.0" cy="279.8" r="3.3" fill="#e0202a"/>
<circle cx="535.1" cy="279.9" r="3.3" fill="#e0202a"/>
<circle cx="540.3" cy="281.0" r="3.3" fill="#e0202a"/>
<circle cx="545.4" cy="279.4" r="3.3" fill="#e0202a"/>
<circle cx="550.6" cy="280.4" r="3.3" fill="#e0202a"/>
<circle cx="555.7" cy="280.2" r="3.3" fill="#e0202a"/>
<circle cx="560.8" cy="280.8" r="3.3" fill="#e0202a"/>
<circle cx="566.0" cy="280.5" r="3.3" fill="#e0202a"/>
<circle cx="571.1" cy="280.1" r="3.3" fill="#e0202a"/>
<circle cx="576.3" cy="278.5" r="3.3" fill="#e0202a"/>
<circle cx="581.4" cy="281.2" r="3.3" fill="#e0202a"/>
<circle cx="586.6" cy="280.7" r="3.3" fill="#e0202a"/>
<circle cx="591.7" cy="279.2" r="3.3" fill="#e0202a"/>
<circle cx="596.9" cy="278.1" r="3.3" fill="#e0202a"/>
<circle cx="602.0" cy="278.8" r="3.3" fill="#e0202a"/>
<circle cx="607.2" cy="280.7" r="3.3" fill="#e0202a"/>
<circle cx="612.3" cy="281.2" r="3.3" fill="#e0202a"/>
<circle cx="617.5" cy="278.7" r="3.3" fill="#e0202a"/>
<circle cx="622.6" cy="279.5" r="3.3" fill="#e0202a"/>
<circle cx="627.8" cy="279.8" r="3.3" fill="#e0202a"/>
<circle cx="632.9" cy="278.0" r="3.3" fill="#e0202a"/>
<circle cx="638.1" cy="277.8" r="3.3" fill="#e0202a"/>
<circle cx="643.2" cy="278.5" r="3.3" fill="#e0202a"/>
<circle cx="648.4" cy="278.3" r="3.3" fill="#e0202a"/>
<circle cx="653.5" cy="278.0" r="3.3" fill="#e0202a"/>
<polyline points="447.6,280.4 449.7,280.4 451.7,280.4 453.8,280.4 455.8,280.4 457.9,280.4 460.0,280.4 462.0,280.4 464.1,280.4 466.1,280.4 468.2,280.3 470.2,280.3 472.3,280.3 474.4,280.3 476.4,280.3 478.5,280.3 480.5,280.3 482.6,280.3 484.7,280.3 486.7,280.3 488.8,280.3 490.8,280.3 492.9,280.3 495.0,280.3 497.0,280.3 499.1,280.2 501.1,280.2 503.2,280.2 505.3,280.2 507.3,280.2 509.4,280.2 511.4,280.2 513.5,280.2 515.5,280.2 517.6,280.1 519.7,280.1 521.7,280.1 523.8,280.1 525.8,280.1 527.9,280.1 530.0,280.0 532.0,280.0 534.1,280.0 536.1,280.0 538.2,280.0 540.3,280.0 542.3,279.9 544.4,279.9 546.4,279.9 548.5,279.9 550.6,279.9 552.6,279.9 554.7,279.8 556.7,279.8 558.8,279.8 560.8,279.8 562.9,279.7 565.0,279.7 567.0,279.7 569.1,279.7 571.1,279.7 573.2,279.6 575.3,279.6 577.3,279.6 579.4,279.6 581.4,279.5 583.5,279.5 585.6,279.5 587.6,279.5 589.7,279.4 591.7,279.4 593.8,279.4 595.8,279.3 597.9,279.3 600.0,279.3 602.0,279.3 604.1,279.2 606.1,279.2 608.2,279.2 610.3,279.1 612.3,279.1 614.4,279.1 616.4,279.0 618.5,279.0 620.6,279.0 622.6,278.9 624.7,278.9 626.7,278.9 628.8,278.8 630.9,278.8 632.9,278.8 635.0,278.7 637.0,278.7 639.1,278.7 641.1,278.6 643.2,278.6 645.3,278.5 647.3,278.5 649.4,278.5 651.4,278.4 653.5,278.4" fill="none" stroke="#e0202a" stroke-width="3.1"/>
<circle cx="447.6" cy="279.5" r="3.3" fill="#2f4fa2"/>
<circle cx="452.7" cy="280.5" r="3.3" fill="#2f4fa2"/>
<circle cx="457.9" cy="280.8" r="3.3" fill="#2f4fa2"/>
<circle cx="463.0" cy="281.2" r="3.3" fill="#2f4fa2"/>
<circle cx="468.2" cy="283.9" r="3.3" fill="#2f4fa2"/>
<circle cx="473.3" cy="281.8" r="3.3" fill="#2f4fa2"/>
<circle cx="478.5" cy="283.0" r="3.3" fill="#2f4fa2"/>
<circle cx="483.6" cy="284.5" r="3.3" fill="#2f4fa2"/>
<circle cx="488.8" cy="288.3" r="3.3" fill="#2f4fa2"/>
<circle cx="493.9" cy="288.6" r="3.3" fill="#2f4fa2"/>
<circle cx="499.1" cy="288.9" r="3.3" fill="#2f4fa2"/>
<circle cx="504.2" cy="293.6" r="3.3" fill="#2f4fa2"/>
<circle cx="509.4" cy="294.4" r="3.3" fill="#2f4fa2"/>
<circle cx="514.5" cy="295.7" r="3.3" fill="#2f4fa2"/>
<circle cx="519.7" cy="300.7" r="3.3" fill="#2f4fa2"/>
<circle cx="524.8" cy="300.7" r="3.3" fill="#2f4fa2"/>
<circle cx="530.0" cy="304.7" r="3.3" fill="#2f4fa2"/>
<circle cx="535.1" cy="308.4" r="3.3" fill="#2f4fa2"/>
<circle cx="540.3" cy="311.0" r="3.3" fill="#2f4fa2"/>
<circle cx="545.4" cy="313.8" r="3.3" fill="#2f4fa2"/>
<circle cx="550.6" cy="317.5" r="3.3" fill="#2f4fa2"/>
<circle cx="555.7" cy="319.8" r="3.3" fill="#2f4fa2"/>
<circle cx="560.8" cy="324.8" r="3.3" fill="#2f4fa2"/>
<circle cx="566.0" cy="327.9" r="3.3" fill="#2f4fa2"/>
<circle cx="571.1" cy="329.9" r="3.3" fill="#2f4fa2"/>
<circle cx="576.3" cy="334.4" r="3.3" fill="#2f4fa2"/>
<circle cx="581.4" cy="338.8" r="3.3" fill="#2f4fa2"/>
<circle cx="586.6" cy="340.5" r="3.3" fill="#2f4fa2"/>
<circle cx="591.7" cy="343.5" r="3.3" fill="#2f4fa2"/>
<circle cx="596.9" cy="349.0" r="3.3" fill="#2f4fa2"/>
<circle cx="602.0" cy="353.5" r="3.3" fill="#2f4fa2"/>
<circle cx="607.2" cy="355.9" r="3.3" fill="#2f4fa2"/>
<circle cx="612.3" cy="359.5" r="3.3" fill="#2f4fa2"/>
<circle cx="617.5" cy="363.3" r="3.3" fill="#2f4fa2"/>
<circle cx="622.6" cy="365.2" r="3.3" fill="#2f4fa2"/>
<circle cx="627.8" cy="371.2" r="3.3" fill="#2f4fa2"/>
<circle cx="632.9" cy="372.4" r="3.3" fill="#2f4fa2"/>
<circle cx="638.1" cy="378.4" r="3.3" fill="#2f4fa2"/>
<circle cx="643.2" cy="381.4" r="3.3" fill="#2f4fa2"/>
<circle cx="648.4" cy="383.4" r="3.3" fill="#2f4fa2"/>
<circle cx="653.5" cy="386.2" r="3.3" fill="#2f4fa2"/>
<polyline points="447.6,281.1 449.7,281.1 451.7,281.1 453.8,281.1 455.8,281.2 457.9,281.3 460.0,281.5 462.0,281.6 464.1,281.8 466.1,282.1 468.2,282.3 470.2,282.6 472.3,282.9 474.4,283.2 476.4,283.6 478.5,283.9 480.5,284.4 482.6,284.8 484.7,285.3 486.7,285.8 488.8,286.4 490.8,287.0 492.9,287.6 495.0,288.3 497.0,289.0 499.1,289.8 501.1,290.6 503.2,291.4 505.3,292.3 507.3,293.2 509.4,294.2 511.4,295.2 513.5,296.2 515.5,297.2 517.6,298.3 519.7,299.4 521.7,300.5 523.8,301.7 525.8,302.8 527.9,304.0 530.0,305.2 532.0,306.4 534.1,307.6 536.1,308.8 538.2,310.1 540.3,311.3 542.3,312.6 544.4,313.8 546.4,315.1 548.5,316.4 550.6,317.6 552.6,318.9 554.7,320.2 556.7,321.5 558.8,322.9 560.8,324.2 562.9,325.5 565.0,326.9 567.0,328.2 569.1,329.6 571.1,330.9 573.2,332.3 575.3,333.7 577.3,335.1 579.4,336.5 581.4,337.9 583.5,339.3 585.6,340.7 587.6,342.1 589.7,343.6 591.7,345.0 593.8,346.4 595.8,347.9 597.9,349.3 600.0,350.7 602.0,352.2 604.1,353.6 606.1,355.1 608.2,356.5 610.3,358.0 612.3,359.4 614.4,360.8 616.4,362.3 618.5,363.7 620.6,365.2 622.6,366.6 624.7,368.0 626.7,369.4 628.8,370.9 630.9,372.3 632.9,373.7 635.0,375.1 637.0,376.5 639.1,377.9 641.1,379.2 643.2,380.6 645.3,382.0 647.3,383.3 649.4,384.7 651.4,386.0 653.5,387.4" fill="none" stroke="#2f4fa2" stroke-width="3.1"/>
<circle cx="447.6" cy="278.0" r="3.3" fill="#0d9b4a"/>
<circle cx="452.7" cy="278.5" r="3.3" fill="#0d9b4a"/>
<circle cx="457.9" cy="279.0" r="3.3" fill="#0d9b4a"/>
<circle cx="463.0" cy="279.4" r="3.3" fill="#0d9b4a"/>
<circle cx="468.2" cy="279.8" r="3.3" fill="#0d9b4a"/>
<circle cx="473.3" cy="281.2" r="3.3" fill="#0d9b4a"/>
<circle cx="478.5" cy="281.8" r="3.3" fill="#0d9b4a"/>
<circle cx="483.6" cy="282.8" r="3.3" fill="#0d9b4a"/>
<circle cx="488.8" cy="284.6" r="3.3" fill="#0d9b4a"/>
<circle cx="493.9" cy="285.5" r="3.3" fill="#0d9b4a"/>
<circle cx="499.1" cy="287.3" r="3.3" fill="#0d9b4a"/>
<circle cx="504.2" cy="288.0" r="3.3" fill="#0d9b4a"/>
<circle cx="509.4" cy="291.4" r="3.3" fill="#0d9b4a"/>
<circle cx="514.5" cy="294.1" r="3.3" fill="#0d9b4a"/>
<circle cx="519.7" cy="296.4" r="3.3" fill="#0d9b4a"/>
<circle cx="524.8" cy="298.5" r="3.3" fill="#0d9b4a"/>
<circle cx="530.0" cy="300.4" r="3.3" fill="#0d9b4a"/>
<circle cx="535.1" cy="304.1" r="3.3" fill="#0d9b4a"/>
<circle cx="540.3" cy="306.4" r="3.3" fill="#0d9b4a"/>
<circle cx="545.4" cy="308.2" r="3.3" fill="#0d9b4a"/>
<circle cx="550.6" cy="314.9" r="3.3" fill="#0d9b4a"/>
<circle cx="555.7" cy="317.0" r="3.3" fill="#0d9b4a"/>
<circle cx="560.8" cy="319.2" r="3.3" fill="#0d9b4a"/>
<circle cx="566.0" cy="322.6" r="3.3" fill="#0d9b4a"/>
<circle cx="571.1" cy="326.3" r="3.3" fill="#0d9b4a"/>
<circle cx="576.3" cy="330.6" r="3.3" fill="#0d9b4a"/>
<circle cx="581.4" cy="333.5" r="3.3" fill="#0d9b4a"/>
<circle cx="586.6" cy="337.8" r="3.3" fill="#0d9b4a"/>
<circle cx="591.7" cy="342.5" r="3.3" fill="#0d9b4a"/>
<circle cx="596.9" cy="344.2" r="3.3" fill="#0d9b4a"/>
<circle cx="602.0" cy="350.1" r="3.3" fill="#0d9b4a"/>
<circle cx="607.2" cy="355.2" r="3.3" fill="#0d9b4a"/>
<circle cx="612.3" cy="359.2" r="3.3" fill="#0d9b4a"/>
<circle cx="617.5" cy="363.8" r="3.3" fill="#0d9b4a"/>
<circle cx="622.6" cy="368.3" r="3.3" fill="#0d9b4a"/>
<circle cx="627.8" cy="375.1" r="3.3" fill="#0d9b4a"/>
<circle cx="632.9" cy="378.0" r="3.3" fill="#0d9b4a"/>
<circle cx="638.1" cy="381.6" r="3.3" fill="#0d9b4a"/>
<circle cx="643.2" cy="388.3" r="3.3" fill="#0d9b4a"/>
<circle cx="648.4" cy="392.3" r="3.3" fill="#0d9b4a"/>
<circle cx="653.5" cy="396.4" r="3.3" fill="#0d9b4a"/>
<polyline points="447.6,278.7 449.7,278.7 451.7,278.8 453.8,278.9 455.8,279.0 457.9,279.1 460.0,279.3 462.0,279.5 464.1,279.7 466.1,279.9 468.2,280.2 470.2,280.5 472.3,280.9 474.4,281.2 476.4,281.6 478.5,282.1 480.5,282.5 482.6,283.0 484.7,283.5 486.7,284.0 488.8,284.6 490.8,285.2 492.9,285.8 495.0,286.4 497.0,287.1 499.1,287.8 501.1,288.5 503.2,289.3 505.3,290.0 507.3,290.8 509.4,291.6 511.4,292.5 513.5,293.3 515.5,294.2 517.6,295.1 519.7,296.1 521.7,297.0 523.8,298.0 525.8,299.0 527.9,300.1 530.0,301.1 532.0,302.2 534.1,303.3 536.1,304.4 538.2,305.5 540.3,306.7 542.3,307.9 544.4,309.1 546.4,310.3 548.5,311.5 550.6,312.8 552.6,314.1 554.7,315.4 556.7,316.7 558.8,318.1 560.8,319.4 562.9,320.8 565.0,322.2 567.0,323.6 569.1,325.1 571.1,326.5 573.2,328.0 575.3,329.5 577.3,331.0 579.4,332.5 581.4,334.1 583.5,335.6 585.6,337.2 587.6,338.8 589.7,340.4 591.7,342.0 593.8,343.7 595.8,345.3 597.9,347.0 600.0,348.7 602.0,350.4 604.1,352.1 606.1,353.9 608.2,355.6 610.3,357.4 612.3,359.1 614.4,360.9 616.4,362.7 618.5,364.5 620.6,366.4 622.6,368.2 624.7,370.1 626.7,371.9 628.8,373.8 630.9,375.7 632.9,377.6 635.0,379.5 637.0,381.4 639.1,383.4 641.1,385.3 643.2,387.3 645.3,389.3 647.3,391.2 649.4,393.2 651.4,395.2 653.5,397.2" fill="none" stroke="#0d9b4a" stroke-width="3.1"/>
<circle cx="451.8" cy="308.0" r="3.35" fill="#231f20"/>
<line x1="461.3" y1="298.2" x2="461.3" y2="317.2" stroke="#3a3a3c" stroke-width="1.5"/>
<text x="462.86" y="312.6" font-size="18.6" textLength="11.30" lengthAdjust="spacingAndGlyphs" >+</text>
<text x="474.67" y="312.6" font-size="18.8" textLength="11.69" lengthAdjust="spacingAndGlyphs" class="i" >Z</text>
<polyline points="489.3,298.2 493.5,307.7 489.3,317.2" fill="none" stroke="#3a3a3c" stroke-width="1.0"/>
<circle cx="451.8" cy="334.3" r="3.35" fill="#2f4fa2"/>
<line x1="461.3" y1="324.5" x2="461.3" y2="343.5" stroke="#3a3a3c" stroke-width="1.5"/>
<text x="462.86" y="338.9" font-size="18.6" textLength="11.30" lengthAdjust="spacingAndGlyphs" >+</text>
<text x="475.30" y="338.9" font-size="18.8" textLength="10.60" lengthAdjust="spacingAndGlyphs" class="i" >X</text>
<polyline points="489.3,324.5 493.5,334.0 489.3,343.5" fill="none" stroke="#3a3a3c" stroke-width="1.0"/>
<circle cx="451.8" cy="360.7" r="3.35" fill="#e0202a"/>
<line x1="461.3" y1="350.9" x2="461.3" y2="369.9" stroke="#3a3a3c" stroke-width="1.5"/>
<text x="463.67" y="365.3" font-size="18.6" textLength="11.18" lengthAdjust="spacingAndGlyphs" >+</text>
<text x="474.60" y="365.3" font-size="18.8" textLength="12.20" lengthAdjust="spacingAndGlyphs" class="i" >Y</text>
<polyline points="490.0,350.9 494.2,360.4 490.0,369.9" fill="none" stroke="#3a3a3c" stroke-width="1.0"/>
<circle cx="451.8" cy="386.8" r="3.35" fill="#0d9b4a"/>
<line x1="461.3" y1="377.0" x2="461.3" y2="396.0" stroke="#3a3a3c" stroke-width="1.5"/>
<line x1="465.0" y1="386.1" x2="474.8" y2="386.1" stroke="#231f20" stroke-width="1.3"/>
<text x="475.99" y="391.4" font-size="18.8" textLength="12.25" lengthAdjust="spacingAndGlyphs" class="i" >Z</text>
<polyline points="492.0,377.0 496.2,386.5 492.0,396.0" fill="none" stroke="#3a3a3c" stroke-width="1.0"/>
<rect x="79.3" y="454.3" width="225.5" height="164.90000000000003" fill="#fff" stroke="#58595b" stroke-width="1"/>
<line x1="88.5" y1="619.2" x2="88.5" y2="610.7" stroke="#58595b" stroke-width="0.9"/>
<line x1="88.5" y1="454.3" x2="88.5" y2="462.8" stroke="#58595b" stroke-width="0.9"/>
<line x1="129.8" y1="619.2" x2="129.8" y2="610.7" stroke="#58595b" stroke-width="0.9"/>
<line x1="129.8" y1="454.3" x2="129.8" y2="462.8" stroke="#58595b" stroke-width="0.9"/>
<line x1="171.1" y1="619.2" x2="171.1" y2="610.7" stroke="#58595b" stroke-width="0.9"/>
<line x1="171.1" y1="454.3" x2="171.1" y2="462.8" stroke="#58595b" stroke-width="0.9"/>
<line x1="212.3" y1="619.2" x2="212.3" y2="610.7" stroke="#58595b" stroke-width="0.9"/>
<line x1="212.3" y1="454.3" x2="212.3" y2="462.8" stroke="#58595b" stroke-width="0.9"/>
<line x1="253.6" y1="619.2" x2="253.6" y2="610.7" stroke="#58595b" stroke-width="0.9"/>
<line x1="253.6" y1="454.3" x2="253.6" y2="462.8" stroke="#58595b" stroke-width="0.9"/>
<line x1="294.9" y1="619.2" x2="294.9" y2="610.7" stroke="#58595b" stroke-width="0.9"/>
<line x1="294.9" y1="454.3" x2="294.9" y2="462.8" stroke="#58595b" stroke-width="0.9"/>
<line x1="79.3" y1="586.2" x2="87.8" y2="586.2" stroke="#58595b" stroke-width="0.9"/>
<line x1="304.8" y1="586.2" x2="296.3" y2="586.2" stroke="#58595b" stroke-width="0.9"/>
<line x1="79.3" y1="553.2" x2="87.8" y2="553.2" stroke="#58595b" stroke-width="0.9"/>
<line x1="304.8" y1="553.2" x2="296.3" y2="553.2" stroke="#58595b" stroke-width="0.9"/>
<line x1="79.3" y1="520.3" x2="87.8" y2="520.3" stroke="#58595b" stroke-width="0.9"/>
<line x1="304.8" y1="520.3" x2="296.3" y2="520.3" stroke="#58595b" stroke-width="0.9"/>
<line x1="79.3" y1="487.3" x2="87.8" y2="487.3" stroke="#58595b" stroke-width="0.9"/>
<line x1="304.8" y1="487.3" x2="296.3" y2="487.3" stroke="#58595b" stroke-width="0.9"/>
<circle cx="88.5" cy="455.7" r="2.6" fill="none" stroke="#231f20" stroke-width="1.25"/>
<circle cx="93.7" cy="461.1" r="2.6" fill="none" stroke="#231f20" stroke-width="1.25"/>
<circle cx="98.8" cy="466.1" r="2.6" fill="none" stroke="#231f20" stroke-width="1.25"/>
<circle cx="104.0" cy="469.7" r="2.6" fill="none" stroke="#231f20" stroke-width="1.25"/>
<circle cx="109.1" cy="473.5" r="2.6" fill="none" stroke="#231f20" stroke-width="1.25"/>
<circle cx="114.3" cy="477.0" r="2.6" fill="none" stroke="#231f20" stroke-width="1.25"/>
<circle cx="119.5" cy="480.6" r="2.6" fill="none" stroke="#231f20" stroke-width="1.25"/>
<circle cx="124.6" cy="485.3" r="2.6" fill="none" stroke="#231f20" stroke-width="1.25"/>
<circle cx="129.8" cy="488.0" r="2.6" fill="none" stroke="#231f20" stroke-width="1.25"/>
<circle cx="134.9" cy="492.3" r="2.6" fill="none" stroke="#231f20" stroke-width="1.25"/>
<circle cx="140.1" cy="495.4" r="2.6" fill="none" stroke="#231f20" stroke-width="1.25"/>
<circle cx="145.3" cy="499.6" r="2.6" fill="none" stroke="#231f20" stroke-width="1.25"/>
<circle cx="150.4" cy="502.8" r="2.6" fill="none" stroke="#231f20" stroke-width="1.25"/>
<circle cx="155.6" cy="506.1" r="2.6" fill="none" stroke="#231f20" stroke-width="1.25"/>
<circle cx="160.7" cy="510.0" r="2.6" fill="none" stroke="#231f20" stroke-width="1.25"/>
<circle cx="165.9" cy="513.5" r="2.6" fill="none" stroke="#231f20" stroke-width="1.25"/>
<circle cx="171.1" cy="516.8" r="2.6" fill="none" stroke="#231f20" stroke-width="1.25"/>
<circle cx="176.2" cy="520.5" r="2.6" fill="none" stroke="#231f20" stroke-width="1.25"/>
<circle cx="181.4" cy="524.0" r="2.6" fill="none" stroke="#231f20" stroke-width="1.25"/>
<circle cx="186.5" cy="527.1" r="2.6" fill="none" stroke="#231f20" stroke-width="1.25"/>
<circle cx="191.7" cy="530.6" r="2.6" fill="none" stroke="#231f20" stroke-width="1.25"/>
<circle cx="196.9" cy="534.4" r="2.6" fill="none" stroke="#231f20" stroke-width="1.25"/>
<circle cx="202.0" cy="537.0" r="2.6" fill="none" stroke="#231f20" stroke-width="1.25"/>
<circle cx="207.2" cy="541.3" r="2.6" fill="none" stroke="#231f20" stroke-width="1.25"/>
<circle cx="212.3" cy="544.2" r="2.6" fill="none" stroke="#231f20" stroke-width="1.25"/>
<circle cx="217.5" cy="547.8" r="2.6" fill="none" stroke="#231f20" stroke-width="1.25"/>
<circle cx="222.7" cy="550.9" r="2.6" fill="none" stroke="#231f20" stroke-width="1.25"/>
<circle cx="227.8" cy="554.0" r="2.6" fill="none" stroke="#231f20" stroke-width="1.25"/>
<circle cx="233.0" cy="557.4" r="2.6" fill="none" stroke="#231f20" stroke-width="1.25"/>
<circle cx="238.1" cy="560.5" r="2.6" fill="none" stroke="#231f20" stroke-width="1.25"/>
<circle cx="243.3" cy="564.2" r="2.6" fill="none" stroke="#231f20" stroke-width="1.25"/>
<circle cx="248.5" cy="567.3" r="2.6" fill="none" stroke="#231f20" stroke-width="1.25"/>
<circle cx="253.6" cy="569.9" r="2.6" fill="none" stroke="#231f20" stroke-width="1.25"/>
<circle cx="258.8" cy="573.4" r="2.6" fill="none" stroke="#231f20" stroke-width="1.25"/>
<circle cx="263.9" cy="576.4" r="2.6" fill="none" stroke="#231f20" stroke-width="1.25"/>
<circle cx="269.1" cy="579.6" r="2.6" fill="none" stroke="#231f20" stroke-width="1.25"/>
<circle cx="274.3" cy="581.9" r="2.6" fill="none" stroke="#231f20" stroke-width="1.25"/>
<circle cx="279.4" cy="585.0" r="2.6" fill="none" stroke="#231f20" stroke-width="1.25"/>
<circle cx="284.6" cy="587.8" r="2.6" fill="none" stroke="#231f20" stroke-width="1.25"/>
<circle cx="289.7" cy="591.3" r="2.6" fill="none" stroke="#231f20" stroke-width="1.25"/>
<circle cx="294.9" cy="594.0" r="2.6" fill="none" stroke="#231f20" stroke-width="1.25"/>
<line x1="88.5" y1="462.4" x2="294.9" y2="599.4" stroke="#231f20" stroke-width="2.8"/>
<circle cx="88.5" cy="481.1" r="2.6" fill="none" stroke="#ec1c24" stroke-width="1.25"/>
<circle cx="93.7" cy="480.6" r="2.6" fill="none" stroke="#ec1c24" stroke-width="1.25"/>
<circle cx="98.8" cy="480.3" r="2.6" fill="none" stroke="#ec1c24" stroke-width="1.25"/>
<circle cx="104.0" cy="480.9" r="2.6" fill="none" stroke="#ec1c24" stroke-width="1.25"/>
<circle cx="109.1" cy="480.2" r="2.6" fill="none" stroke="#ec1c24" stroke-width="1.25"/>
<circle cx="114.3" cy="480.3" r="2.6" fill="none" stroke="#ec1c24" stroke-width="1.25"/>
<circle cx="119.5" cy="480.5" r="2.6" fill="none" stroke="#ec1c24" stroke-width="1.25"/>
<circle cx="124.6" cy="480.9" r="2.6" fill="none" stroke="#ec1c24" stroke-width="1.25"/>
<circle cx="129.8" cy="480.0" r="2.6" fill="none" stroke="#ec1c24" stroke-width="1.25"/>
<circle cx="134.9" cy="480.3" r="2.6" fill="none" stroke="#ec1c24" stroke-width="1.25"/>
<circle cx="140.1" cy="480.4" r="2.6" fill="none" stroke="#ec1c24" stroke-width="1.25"/>
<circle cx="145.3" cy="480.1" r="2.6" fill="none" stroke="#ec1c24" stroke-width="1.25"/>
<circle cx="150.4" cy="480.0" r="2.6" fill="none" stroke="#ec1c24" stroke-width="1.25"/>
<circle cx="155.6" cy="479.7" r="2.6" fill="none" stroke="#ec1c24" stroke-width="1.25"/>
<circle cx="160.7" cy="480.2" r="2.6" fill="none" stroke="#ec1c24" stroke-width="1.25"/>
<circle cx="165.9" cy="479.6" r="2.6" fill="none" stroke="#ec1c24" stroke-width="1.25"/>
<circle cx="171.1" cy="479.5" r="2.6" fill="none" stroke="#ec1c24" stroke-width="1.25"/>
<circle cx="176.2" cy="479.4" r="2.6" fill="none" stroke="#ec1c24" stroke-width="1.25"/>
<circle cx="181.4" cy="479.8" r="2.6" fill="none" stroke="#ec1c24" stroke-width="1.25"/>
<circle cx="186.5" cy="479.9" r="2.6" fill="none" stroke="#ec1c24" stroke-width="1.25"/>
<circle cx="191.7" cy="479.4" r="2.6" fill="none" stroke="#ec1c24" stroke-width="1.25"/>
<circle cx="196.9" cy="479.5" r="2.6" fill="none" stroke="#ec1c24" stroke-width="1.25"/>
<circle cx="202.0" cy="479.5" r="2.6" fill="none" stroke="#ec1c24" stroke-width="1.25"/>
<circle cx="207.2" cy="479.1" r="2.6" fill="none" stroke="#ec1c24" stroke-width="1.25"/>
<circle cx="212.3" cy="479.4" r="2.6" fill="none" stroke="#ec1c24" stroke-width="1.25"/>
<circle cx="217.5" cy="479.9" r="2.6" fill="none" stroke="#ec1c24" stroke-width="1.25"/>
<circle cx="222.7" cy="479.3" r="2.6" fill="none" stroke="#ec1c24" stroke-width="1.25"/>
<circle cx="227.8" cy="479.6" r="2.6" fill="none" stroke="#ec1c24" stroke-width="1.25"/>
<circle cx="233.0" cy="478.9" r="2.6" fill="none" stroke="#ec1c24" stroke-width="1.25"/>
<circle cx="238.1" cy="479.0" r="2.6" fill="none" stroke="#ec1c24" stroke-width="1.25"/>
<circle cx="243.3" cy="479.1" r="2.6" fill="none" stroke="#ec1c24" stroke-width="1.25"/>
<circle cx="248.5" cy="478.9" r="2.6" fill="none" stroke="#ec1c24" stroke-width="1.25"/>
<circle cx="253.6" cy="478.7" r="2.6" fill="none" stroke="#ec1c24" stroke-width="1.25"/>
<circle cx="258.8" cy="478.8" r="2.6" fill="none" stroke="#ec1c24" stroke-width="1.25"/>
<circle cx="263.9" cy="478.4" r="2.6" fill="none" stroke="#ec1c24" stroke-width="1.25"/>
<circle cx="269.1" cy="478.7" r="2.6" fill="none" stroke="#ec1c24" stroke-width="1.25"/>
<circle cx="274.3" cy="478.4" r="2.6" fill="none" stroke="#ec1c24" stroke-width="1.25"/>
<circle cx="279.4" cy="478.2" r="2.6" fill="none" stroke="#ec1c24" stroke-width="1.25"/>
<circle cx="284.6" cy="478.1" r="2.6" fill="none" stroke="#ec1c24" stroke-width="1.25"/>
<circle cx="289.7" cy="478.6" r="2.6" fill="none" stroke="#ec1c24" stroke-width="1.25"/>
<circle cx="294.9" cy="478.2" r="2.6" fill="none" stroke="#ec1c24" stroke-width="1.25"/>
<line x1="88.5" y1="480.8" x2="294.9" y2="478.4" stroke="#ec1c24" stroke-width="2.8"/>
<circle cx="88.5" cy="475.0" r="2.6" fill="none" stroke="#2f4fa2" stroke-width="1.25"/>
<circle cx="93.7" cy="481.6" r="2.6" fill="none" stroke="#2f4fa2" stroke-width="1.25"/>
<circle cx="98.8" cy="486.4" r="2.6" fill="none" stroke="#2f4fa2" stroke-width="1.25"/>
<circle cx="104.0" cy="489.7" r="2.6" fill="none" stroke="#2f4fa2" stroke-width="1.25"/>
<circle cx="109.1" cy="494.1" r="2.6" fill="none" stroke="#2f4fa2" stroke-width="1.25"/>
<circle cx="114.3" cy="497.5" r="2.6" fill="none" stroke="#2f4fa2" stroke-width="1.25"/>
<circle cx="119.5" cy="501.3" r="2.6" fill="none" stroke="#2f4fa2" stroke-width="1.25"/>
<circle cx="124.6" cy="504.9" r="2.6" fill="none" stroke="#2f4fa2" stroke-width="1.25"/>
<circle cx="129.8" cy="508.7" r="2.6" fill="none" stroke="#2f4fa2" stroke-width="1.25"/>
<circle cx="134.9" cy="512.1" r="2.6" fill="none" stroke="#2f4fa2" stroke-width="1.25"/>
<circle cx="140.1" cy="515.4" r="2.6" fill="none" stroke="#2f4fa2" stroke-width="1.25"/>
<circle cx="145.3" cy="519.4" r="2.6" fill="none" stroke="#2f4fa2" stroke-width="1.25"/>
<circle cx="150.4" cy="522.8" r="2.6" fill="none" stroke="#2f4fa2" stroke-width="1.25"/>
<circle cx="155.6" cy="526.3" r="2.6" fill="none" stroke="#2f4fa2" stroke-width="1.25"/>
<circle cx="160.7" cy="530.1" r="2.6" fill="none" stroke="#2f4fa2" stroke-width="1.25"/>
<circle cx="165.9" cy="533.9" r="2.6" fill="none" stroke="#2f4fa2" stroke-width="1.25"/>
<circle cx="171.1" cy="537.2" r="2.6" fill="none" stroke="#2f4fa2" stroke-width="1.25"/>
<circle cx="176.2" cy="540.3" r="2.6" fill="none" stroke="#2f4fa2" stroke-width="1.25"/>
<circle cx="181.4" cy="544.4" r="2.6" fill="none" stroke="#2f4fa2" stroke-width="1.25"/>
<circle cx="186.5" cy="547.6" r="2.6" fill="none" stroke="#2f4fa2" stroke-width="1.25"/>
<circle cx="191.7" cy="550.6" r="2.6" fill="none" stroke="#2f4fa2" stroke-width="1.25"/>
<circle cx="196.9" cy="554.0" r="2.6" fill="none" stroke="#2f4fa2" stroke-width="1.25"/>
<circle cx="202.0" cy="557.6" r="2.6" fill="none" stroke="#2f4fa2" stroke-width="1.25"/>
<circle cx="207.2" cy="560.7" r="2.6" fill="none" stroke="#2f4fa2" stroke-width="1.25"/>
<circle cx="212.3" cy="564.1" r="2.6" fill="none" stroke="#2f4fa2" stroke-width="1.25"/>
<circle cx="217.5" cy="567.6" r="2.6" fill="none" stroke="#2f4fa2" stroke-width="1.25"/>
<circle cx="222.7" cy="570.9" r="2.6" fill="none" stroke="#2f4fa2" stroke-width="1.25"/>
<circle cx="227.8" cy="573.8" r="2.6" fill="none" stroke="#2f4fa2" stroke-width="1.25"/>
<circle cx="233.0" cy="576.5" r="2.6" fill="none" stroke="#2f4fa2" stroke-width="1.25"/>
<circle cx="238.1" cy="579.9" r="2.6" fill="none" stroke="#2f4fa2" stroke-width="1.25"/>
<circle cx="243.3" cy="583.0" r="2.6" fill="none" stroke="#2f4fa2" stroke-width="1.25"/>
<circle cx="248.5" cy="586.0" r="2.6" fill="none" stroke="#2f4fa2" stroke-width="1.25"/>
<circle cx="253.6" cy="589.1" r="2.6" fill="none" stroke="#2f4fa2" stroke-width="1.25"/>
<circle cx="258.8" cy="591.6" r="2.6" fill="none" stroke="#2f4fa2" stroke-width="1.25"/>
<circle cx="263.9" cy="594.7" r="2.6" fill="none" stroke="#2f4fa2" stroke-width="1.25"/>
<circle cx="269.1" cy="597.1" r="2.6" fill="none" stroke="#2f4fa2" stroke-width="1.25"/>
<circle cx="274.3" cy="600.6" r="2.6" fill="none" stroke="#2f4fa2" stroke-width="1.25"/>
<circle cx="279.4" cy="602.6" r="2.6" fill="none" stroke="#2f4fa2" stroke-width="1.25"/>
<circle cx="284.6" cy="605.5" r="2.6" fill="none" stroke="#2f4fa2" stroke-width="1.25"/>
<circle cx="289.7" cy="608.5" r="2.6" fill="none" stroke="#2f4fa2" stroke-width="1.25"/>
<circle cx="294.9" cy="610.4" r="2.6" fill="none" stroke="#2f4fa2" stroke-width="1.25"/>
<line x1="88.5" y1="482.8" x2="294.9" y2="619.2" stroke="#2f4fa2" stroke-width="2.8"/>
<circle cx="88.5" cy="487.7" r="2.6" fill="none" stroke="#0d9b4a" stroke-width="1.25"/>
<circle cx="93.7" cy="493.9" r="2.6" fill="none" stroke="#0d9b4a" stroke-width="1.25"/>
<circle cx="98.8" cy="497.6" r="2.6" fill="none" stroke="#0d9b4a" stroke-width="1.25"/>
<circle cx="104.0" cy="500.8" r="2.6" fill="none" stroke="#0d9b4a" stroke-width="1.25"/>
<circle cx="109.1" cy="504.3" r="2.6" fill="none" stroke="#0d9b4a" stroke-width="1.25"/>
<circle cx="114.3" cy="507.2" r="2.6" fill="none" stroke="#0d9b4a" stroke-width="1.25"/>
<circle cx="119.5" cy="510.4" r="2.6" fill="none" stroke="#0d9b4a" stroke-width="1.25"/>
<circle cx="124.6" cy="513.6" r="2.6" fill="none" stroke="#0d9b4a" stroke-width="1.25"/>
<circle cx="129.8" cy="516.9" r="2.6" fill="none" stroke="#0d9b4a" stroke-width="1.25"/>
<circle cx="134.9" cy="519.8" r="2.6" fill="none" stroke="#0d9b4a" stroke-width="1.25"/>
<circle cx="140.1" cy="523.1" r="2.6" fill="none" stroke="#0d9b4a" stroke-width="1.25"/>
<circle cx="145.3" cy="526.3" r="2.6" fill="none" stroke="#0d9b4a" stroke-width="1.25"/>
<circle cx="150.4" cy="530.0" r="2.6" fill="none" stroke="#0d9b4a" stroke-width="1.25"/>
<circle cx="155.6" cy="532.4" r="2.6" fill="none" stroke="#0d9b4a" stroke-width="1.25"/>
<circle cx="160.7" cy="535.3" r="2.6" fill="none" stroke="#0d9b4a" stroke-width="1.25"/>
<circle cx="165.9" cy="538.8" r="2.6" fill="none" stroke="#0d9b4a" stroke-width="1.25"/>
<circle cx="171.1" cy="541.8" r="2.6" fill="none" stroke="#0d9b4a" stroke-width="1.25"/>
<circle cx="176.2" cy="544.2" r="2.6" fill="none" stroke="#0d9b4a" stroke-width="1.25"/>
<circle cx="181.4" cy="548.2" r="2.6" fill="none" stroke="#0d9b4a" stroke-width="1.25"/>
<circle cx="186.5" cy="550.6" r="2.6" fill="none" stroke="#0d9b4a" stroke-width="1.25"/>
<circle cx="191.7" cy="553.1" r="2.6" fill="none" stroke="#0d9b4a" stroke-width="1.25"/>
<circle cx="196.9" cy="556.8" r="2.6" fill="none" stroke="#0d9b4a" stroke-width="1.25"/>
<circle cx="202.0" cy="559.3" r="2.6" fill="none" stroke="#0d9b4a" stroke-width="1.25"/>
<circle cx="207.2" cy="561.9" r="2.6" fill="none" stroke="#0d9b4a" stroke-width="1.25"/>
<circle cx="212.3" cy="565.3" r="2.6" fill="none" stroke="#0d9b4a" stroke-width="1.25"/>
<circle cx="217.5" cy="567.9" r="2.6" fill="none" stroke="#0d9b4a" stroke-width="1.25"/>
<circle cx="222.7" cy="570.7" r="2.6" fill="none" stroke="#0d9b4a" stroke-width="1.25"/>
<circle cx="227.8" cy="573.9" r="2.6" fill="none" stroke="#0d9b4a" stroke-width="1.25"/>
<circle cx="233.0" cy="576.5" r="2.6" fill="none" stroke="#0d9b4a" stroke-width="1.25"/>
<circle cx="238.1" cy="579.1" r="2.6" fill="none" stroke="#0d9b4a" stroke-width="1.25"/>
<circle cx="243.3" cy="581.7" r="2.6" fill="none" stroke="#0d9b4a" stroke-width="1.25"/>
<circle cx="248.5" cy="584.6" r="2.6" fill="none" stroke="#0d9b4a" stroke-width="1.25"/>
<circle cx="253.6" cy="587.3" r="2.6" fill="none" stroke="#0d9b4a" stroke-width="1.25"/>
<circle cx="258.8" cy="590.1" r="2.6" fill="none" stroke="#0d9b4a" stroke-width="1.25"/>
<circle cx="263.9" cy="592.6" r="2.6" fill="none" stroke="#0d9b4a" stroke-width="1.25"/>
<circle cx="269.1" cy="594.9" r="2.6" fill="none" stroke="#0d9b4a" stroke-width="1.25"/>
<circle cx="274.3" cy="597.6" r="2.6" fill="none" stroke="#0d9b4a" stroke-width="1.25"/>
<circle cx="279.4" cy="600.4" r="2.6" fill="none" stroke="#0d9b4a" stroke-width="1.25"/>
<circle cx="284.6" cy="602.9" r="2.6" fill="none" stroke="#0d9b4a" stroke-width="1.25"/>
<circle cx="289.7" cy="604.5" r="2.6" fill="none" stroke="#0d9b4a" stroke-width="1.25"/>
<circle cx="294.9" cy="607.4" r="2.6" fill="none" stroke="#0d9b4a" stroke-width="1.25"/>
<line x1="88.5" y1="494.7" x2="294.9" y2="612.6" stroke="#0d9b4a" stroke-width="2.8"/>
</g>
</svg></body></html>
